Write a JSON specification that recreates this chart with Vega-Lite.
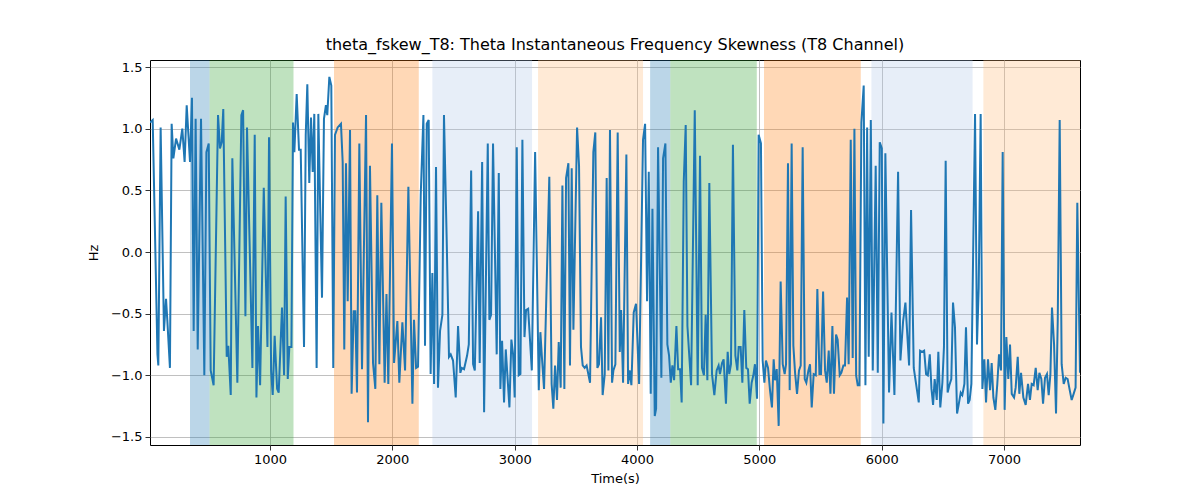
{
  "$schema": "https://vega.github.io/schema/vega-lite/v6.json",
  "width": 930,
  "height": 385,
  "autosize": {"type": "none"},
  "padding": {"left": 150, "top": 60, "right": 120, "bottom": 55},
  "title": {"text": "theta_fskew_T8: Theta Instantaneous Frequency Skewness (T8 Channel)", "fontSize": 16, "fontWeight": "normal", "font": "DejaVu Sans", "color": "#000000", "offset": 7, "anchor": "middle"},
  "config": {
    "font": "DejaVu Sans",
    "view": {"stroke": "#000000", "strokeWidth": 1},
    "axis": {"domain": false, "grid": true, "gridColor": "#b0b0b0", "gridWidth": 0.8, "tickColor": "#000000", "tickSize": 5, "tickWidth": 0.8, "labelFontSize": 13, "labelColor": "#000000", "titleFontSize": 13, "titleFontWeight": "normal", "titleColor": "#000000", "labelFont": "DejaVu Sans", "titleFont": "DejaVu Sans"}
  },
  "datasets": {
    "bands": [
      {"start": 346, "end": 506, "kind": "a"},
      {"start": 506, "end": 1192, "kind": "b"},
      {"start": 1523, "end": 2216, "kind": "c"},
      {"start": 2327, "end": 3142, "kind": "d"},
      {"start": 3191, "end": 4049, "kind": "e"},
      {"start": 4107, "end": 4272, "kind": "a"},
      {"start": 4272, "end": 4979, "kind": "b"},
      {"start": 5038, "end": 5829, "kind": "c"},
      {"start": 5916, "end": 6743, "kind": "d"},
      {"start": 6831, "end": 7621, "kind": "e"}
    ],
    "series": [
      {"t":19,"v":1.05},{"t":41,"v":1.07},{"t":80,"v":-0.83},{"t":87,"v":-0.92},{"t":106,"v":1.01},{"t":133,"v":-0.64},{"t":150,"v":-0.38},{"t":161,"v":-0.56},{"t":182,"v":-0.94},{"t":196,"v":1.04},{"t":210,"v":0.76},{"t":232,"v":0.92},{"t":259,"v":0.83},{"t":283,"v":1.0},{"t":302,"v":0.73},{"t":319,"v":1.19},{"t":346,"v":0.73},{"t":362,"v":1.25},{"t":376,"v":-0.64},{"t":392,"v":1.08},{"t":409,"v":-0.79},{"t":436,"v":1.08},{"t":463,"v":-1.0},{"t":480,"v":0.81},{"t":499,"v":0.88},{"t":515,"v":-0.96},{"t":539,"v":-1.08},{"t":575,"v":1.11},{"t":591,"v":0.84},{"t":605,"v":0.89},{"t":618,"v":1.16},{"t":646,"v":-0.85},{"t":659,"v":-0.76},
      {"t":679,"v":-1.16},{"t":692,"v":0.76},{"t":733,"v":-1.06},{"t":766,"v":1.11},{"t":780,"v":1.15},{"t":799,"v":-0.52},{"t":812,"v":1.01},{"t":856,"v":-0.94},{"t":875,"v":0.95},{"t":889,"v":-1.18},{"t":902,"v":-0.6},{"t":919,"v":-1.08},{"t":949,"v":0.52},{"t":979,"v":-0.77},{"t":992,"v":0.93},{"t":1009,"v":-0.96},{"t":1022,"v":-1.16},{"t":1038,"v":-0.68},{"t":1058,"v":-1.11},{"t":1071,"v":-1.14},{"t":1098,"v":-0.45},{"t":1115,"v":-1.0},{"t":1128,"v":0.45},{"t":1145,"v":-1.03},{"t":1158,"v":-0.77},{"t":1175,"v":-0.77},{"t":1188,"v":1.05},{"t":1199,"v":0.81},{"t":1218,"v":1.28},{"t":1237,"v":0.83},{"t":1251,"v":0.83},{"t":1278,"v":-0.77},{"t":1292,"v":0.95},{"t":1305,"v":1.36},
      {"t":1321,"v":0.56},{"t":1335,"v":1.09},{"t":1349,"v":0.65},{"t":1362,"v":1.12},{"t":1381,"v":-0.94},{"t":1395,"v":1.12},{"t":1425,"v":-0.37},{"t":1441,"v":1.08},{"t":1457,"v":1.19},{"t":1468,"v":1.11},{"t":1485,"v":1.42},{"t":1501,"v":1.35},{"t":1517,"v":-0.94},{"t":1531,"v":0.95},{"t":1553,"v":1.01},{"t":1580,"v":1.04},{"t":1594,"v":0.73},{"t":1607,"v":-0.79},{"t":1621,"v":0.72},{"t":1635,"v":-0.4},{"t":1654,"v":0.99},{"t":1667,"v":-1.15},{"t":1684,"v":-0.48},{"t":1697,"v":-0.48},{"t":1711,"v":-1.14},{"t":1730,"v":0.88},{"t":1752,"v":-0.95},{"t":1785,"v":1.11},{"t":1801,"v":-1.38},{"t":1817,"v":0.7},{"t":1842,"v":-0.9},{"t":1861,"v":-1.11},{"t":1877,"v":0.46},{"t":1894,"v":-0.91},{"t":1910,"v":0.4},{"t":1937,"v":-1.06},
      {"t":1952,"v":-0.34},{"t":1967,"v":-1.07},{"t":1997,"v":0.88},{"t":2014,"v":-0.9},{"t":2041,"v":-0.56},{"t":2057,"v":-1.06},{"t":2082,"v":-0.57},{"t":2104,"v":-0.96},{"t":2131,"v":0.53},{"t":2164,"v":-1.23},{"t":2177,"v":-0.55},{"t":2194,"v":-0.94},{"t":2210,"v":-0.93},{"t":2232,"v":0.46},{"t":2254,"v":1.11},{"t":2267,"v":-0.76},{"t":2281,"v":1.04},{"t":2297,"v":1.07},{"t":2313,"v":-0.99},{"t":2327,"v":-0.17},{"t":2341,"v":-1.07},{"t":2357,"v":0.69},{"t":2373,"v":-1.1},{"t":2390,"v":-0.64},{"t":2409,"v":-0.51},{"t":2422,"v":1.11},{"t":2444,"v":0.11},{"t":2463,"v":-0.85},{"t":2477,"v":-0.83},{"t":2496,"v":-0.88},{"t":2518,"v":-1.18},{"t":2537,"v":-0.6},{"t":2556,"v":-0.98},{"t":2567,"v":-0.94},{"t":2586,"v":-0.95},
      {"t":2611,"v":-0.84},{"t":2625,"v":-0.75},{"t":2644,"v":0.66},{"t":2660,"v":-0.91},{"t":2674,"v":-0.96},{"t":2701,"v":0.33},{"t":2714,"v":-0.9},{"t":2734,"v":0.73},{"t":2750,"v":-1.3},{"t":2780,"v":0.88},{"t":2793,"v":-0.55},{"t":2807,"v":-0.51},{"t":2823,"v":0.88},{"t":2853,"v":-0.83},{"t":2870,"v":0.64},{"t":2883,"v":-1.11},{"t":2897,"v":-0.72},{"t":2913,"v":-1.22},{"t":2927,"v":-0.79},{"t":2957,"v":-1.26},{"t":2973,"v":-0.71},{"t":2987,"v":-0.83},{"t":3000,"v":-1.18},{"t":3017,"v":0.85},{"t":3033,"v":-1.0},{"t":3047,"v":-0.99},{"t":3063,"v":0.91},{"t":3080,"v":-0.69},{"t":3093,"v":-0.47},{"t":3110,"v":-0.46},{"t":3140,"v":-0.96},{"t":3167,"v":0.81},{"t":3197,"v":-1.12},{"t":3210,"v":-0.65},
      {"t":3221,"v":-0.83},{"t":3240,"v":-1.11},{"t":3283,"v":0.61},{"t":3302,"v":-1.07},{"t":3316,"v":-1.27},{"t":3330,"v":-0.92},{"t":3346,"v":-1.2},{"t":3360,"v":-0.73},{"t":3376,"v":-1.1},{"t":3390,"v":0.54},{"t":3406,"v":-1.11},{"t":3420,"v":0.6},{"t":3439,"v":0.72},{"t":3452,"v":-0.92},{"t":3466,"v":0.68},{"t":3480,"v":-0.63},{"t":3510,"v":1.01},{"t":3526,"v":0.7},{"t":3542,"v":-0.77},{"t":3556,"v":-0.92},{"t":3572,"v":-0.94},{"t":3588,"v":-0.92},{"t":3616,"v":-1.06},{"t":3643,"v":0.81},{"t":3659,"v":0.97},{"t":3676,"v":-0.94},{"t":3689,"v":-0.91},{"t":3706,"v":-0.53},{"t":3719,"v":-1.16},{"t":3736,"v":-0.99},{"t":3752,"v":0.6},{"t":3766,"v":-0.96},{"t":3779,"v":0.99},{"t":3796,"v":-1.06},{"t":3807,"v":-0.96},{"t":3823,"v":-0.91},{"t":3842,"v":0.97},{"t":3859,"v":-0.81},
      {"t":3870,"v":-0.47},{"t":3886,"v":-1.06},{"t":3913,"v":0.79},{"t":3927,"v":-1.07},{"t":3940,"v":-0.96},{"t":3954,"v":-1.08},{"t":3973,"v":-0.49},{"t":3992,"v":-0.42},{"t":4017,"v":-1.07},{"t":4049,"v":0.91},{"t":4066,"v":1.04},{"t":4082,"v":-0.4},{"t":4096,"v":0.65},{"t":4112,"v":-1.15},{"t":4126,"v":0.35},{"t":4145,"v":-1.33},{"t":4156,"v":-1.27},{"t":4172,"v":0.85},{"t":4199,"v":-1.02},{"t":4213,"v":0.76},{"t":4232,"v":0.88},{"t":4248,"v":-0.75},{"t":4262,"v":-0.84},{"t":4276,"v":-1.06},{"t":4289,"v":-0.92},{"t":4303,"v":-1.04},{"t":4322,"v":-0.6},{"t":4336,"v":-0.95},{"t":4352,"v":-0.95},{"t":4365,"v":-1.22},{"t":4382,"v":0.57},{"t":4398,"v":1.03},{"t":4412,"v":-0.6},{"t":4442,"v":-1.08},{"t":4472,"v":1.15},{"t":4496,"v":-1.08},
      {"t":4515,"v":0.78},{"t":4531,"v":-0.94},{"t":4547,"v":-1.0},{"t":4561,"v":-0.51},{"t":4575,"v":-1.04},{"t":4591,"v":0.56},{"t":4613,"v":-0.99},{"t":4632,"v":-1.16},{"t":4651,"v":-0.96},{"t":4667,"v":-0.92},{"t":4678,"v":-0.99},{"t":4695,"v":-0.9},{"t":4708,"v":-0.87},{"t":4727,"v":-1.23},{"t":4741,"v":-0.81},{"t":4754,"v":-0.99},{"t":4768,"v":-0.91},{"t":4784,"v":0.87},{"t":4804,"v":-0.84},{"t":4820,"v":-0.96},{"t":4831,"v":-0.77},{"t":4847,"v":-0.77},{"t":4861,"v":-1.06},{"t":4877,"v":-0.47},{"t":4893,"v":-0.94},{"t":4907,"v":-0.95},{"t":4921,"v":-1.23},{"t":4937,"v":-1.06},{"t":4951,"v":-1.0},{"t":4964,"v":-0.91},{"t":4981,"v":-1.19},{"t":4994,"v":0.95},{"t":5013,"v":0.88},{"t":5027,"v":-0.88},{"t":5041,"v":-1.06},{"t":5054,"v":-0.88},{"t":5071,"v":-0.94},{"t":5087,"v":-1.12},{"t":5103,"v":-1.26},{"t":5117,"v":-0.87},
      {"t":5128,"v":-1.04},{"t":5142,"v":-0.95},{"t":5158,"v":-1.41},{"t":5174,"v":-0.24},{"t":5191,"v":-0.91},{"t":5207,"v":-0.99},{"t":5218,"v":-0.91},{"t":5234,"v":0.72},{"t":5248,"v":-1.12},{"t":5264,"v":0.88},{"t":5278,"v":-0.76},{"t":5292,"v":-0.98},{"t":5308,"v":-1.15},{"t":5324,"v":-0.96},{"t":5338,"v":-0.92},{"t":5354,"v":0.85},{"t":5371,"v":-1.03},{"t":5384,"v":-1.06},{"t":5401,"v":-0.96},{"t":5414,"v":-0.91},{"t":5428,"v":-1.26},{"t":5444,"v":-0.99},{"t":5461,"v":-1.0},{"t":5474,"v":-0.3},{"t":5491,"v":-0.99},{"t":5504,"v":-0.99},{"t":5521,"v":-0.32},{"t":5537,"v":-0.96},{"t":5551,"v":-1.06},{"t":5567,"v":-0.8},{"t":5581,"v":-1.15},{"t":5597,"v":-0.6},{"t":5610,"v":-1.15},{"t":5627,"v":-0.67},{"t":5640,"v":-0.71},{"t":5657,"v":-1.0},{"t":5670,"v":-0.98},{"t":5687,"v":-0.92},{"t":5700,"v":-0.92},{"t":5717,"v":-0.37},{"t":5730,"v":-0.91},{"t":5747,"v":0.91},{"t":5763,"v":-0.86},{"t":5777,"v":1.0},
      {"t":5791,"v":-1.0},{"t":5804,"v":-1.08},{"t":5818,"v":-1.08},{"t":5834,"v":1.05},{"t":5853,"v":1.35},{"t":5867,"v":-1.08},{"t":5881,"v":1.01},{"t":5894,"v":-0.85},{"t":5911,"v":1.07},{"t":5927,"v":-0.96},{"t":5951,"v":0.7},{"t":5968,"v":-0.98},{"t":5984,"v":0.89},{"t":6001,"v":0.84},{"t":6014,"v":-1.39},{"t":6030,"v":0.8},{"t":6060,"v":-1.14},{"t":6080,"v":-0.49},{"t":6104,"v":-1.16},{"t":6134,"v":0.65},{"t":6153,"v":-0.88},{"t":6175,"v":-0.56},{"t":6194,"v":-0.41},{"t":6224,"v":-0.92},{"t":6240,"v":0.34},{"t":6262,"v":-0.94},{"t":6303,"v":-1.22},{"t":6314,"v":-0.8},{"t":6330,"v":-0.81},{"t":6347,"v":-0.8},{"t":6363,"v":-0.99},{"t":6377,"v":-1.0},{"t":6393,"v":-0.83},{"t":6407,"v":-1.11},
      {"t":6420,"v":-1.24},{"t":6433,"v":-1.03},{"t":6450,"v":-1.2},{"t":6463,"v":-0.81},{"t":6479,"v":-1.26},{"t":6496,"v":-1.06},{"t":6509,"v":-0.77},{"t":6523,"v":0.74},{"t":6539,"v":-1.14},{"t":6553,"v":-1.08},{"t":6569,"v":-1.03},{"t":6583,"v":-0.41},{"t":6599,"v":-0.61},{"t":6616,"v":-1.31},{"t":6629,"v":-1.24},{"t":6646,"v":-1.14},{"t":6659,"v":-1.16},{"t":6676,"v":-1.07},{"t":6689,"v":-0.61},{"t":6706,"v":-1.23},{"t":6719,"v":-1.2},{"t":6733,"v":-1.07},{"t":6763,"v":1.12},{"t":6779,"v":-0.75},{"t":6793,"v":-0.29},{"t":6809,"v":1.12},{"t":6823,"v":-1.11},{"t":6839,"v":-0.87},{"t":6853,"v":-1.22},{"t":6869,"v":-0.87},{"t":6886,"v":-1.12},{"t":6899,"v":-0.9},{"t":6913,"v":-1.18},{"t":6929,"v":-1.28},{"t":6945,"v":-1.07},{"t":6959,"v":-0.83},{"t":6975,"v":-0.96},{"t":6989,"v":0.81},{"t":7005,"v":-1.28},{"t":7019,"v":-0.69},{"t":7035,"v":-1.03},{"t":7049,"v":-0.75},
      {"t":7063,"v":-1.15},{"t":7082,"v":-1.18},{"t":7095,"v":-1.1},{"t":7112,"v":-0.85},{"t":7125,"v":-1.15},{"t":7139,"v":-0.98},{"t":7158,"v":-1.18},{"t":7177,"v":-1.24},{"t":7196,"v":-1.07},{"t":7212,"v":-1.2},{"t":7226,"v":-1.07},{"t":7242,"v":-1.08},{"t":7259,"v":-0.94},{"t":7275,"v":-1.12},{"t":7289,"v":-0.98},{"t":7305,"v":-1.03},{"t":7319,"v":-1.23},{"t":7335,"v":-1.02},{"t":7351,"v":-0.99},{"t":7365,"v":-1.16},{"t":7379,"v":-0.99},{"t":7392,"v":-0.45},{"t":7409,"v":-0.75},{"t":7425,"v":-1.31},{"t":7439,"v":-0.56},{"t":7455,"v":1.07},{"t":7471,"v":-0.91},{"t":7488,"v":-1.07},{"t":7504,"v":-1.02},{"t":7520,"v":-1.03},{"t":7537,"v":-1.12},{"t":7553,"v":-1.2},{"t":7569,"v":-1.15},{"t":7585,"v":-1.1},{"t":7599,"v":0.4},{"t":7621,"v":-0.98}
    ]
  },
  "layer": [
    {
      "data": {"name": "bands"},
      "mark": {"type": "rect", "opacity": 0.3},
      "encoding": {
        "x": {"field": "start", "type": "quantitative", "scale": {"domain": [19, 7621], "nice": false, "zero": false}, "axis": {"title": "Time(s)", "values": [1000, 2000, 3000, 4000, 5000, 6000, 7000], "format": "d", "titlePadding": 6, "labelPadding": 3}},
        "x2": {"field": "end"},
        "color": {"field": "kind", "type": "nominal", "legend": null, "scale": {"domain": ["a", "b", "c", "d", "e"], "range": ["#1f77b4", "#2ca02c", "#ff7f0e", "#aec7e8", "#ffbb78"]}}
      }
    },
    {
      "data": {"name": "series"},
      "mark": {"type": "line", "color": "#1f77b4", "strokeWidth": 2, "clip": true},
      "encoding": {
        "x": {"field": "t", "type": "quantitative"},
        "y": {"field": "v", "type": "quantitative", "scale": {"domain": [-1.565, 1.557], "nice": false, "zero": false}, "axis": {"title": "Hz", "values": [-1.5, -1.0, -0.5, 0.0, 0.5, 1.0, 1.5], "format": ".1f", "titlePadding": 10, "labelPadding": 3}}
      }
    }
  ]
}
